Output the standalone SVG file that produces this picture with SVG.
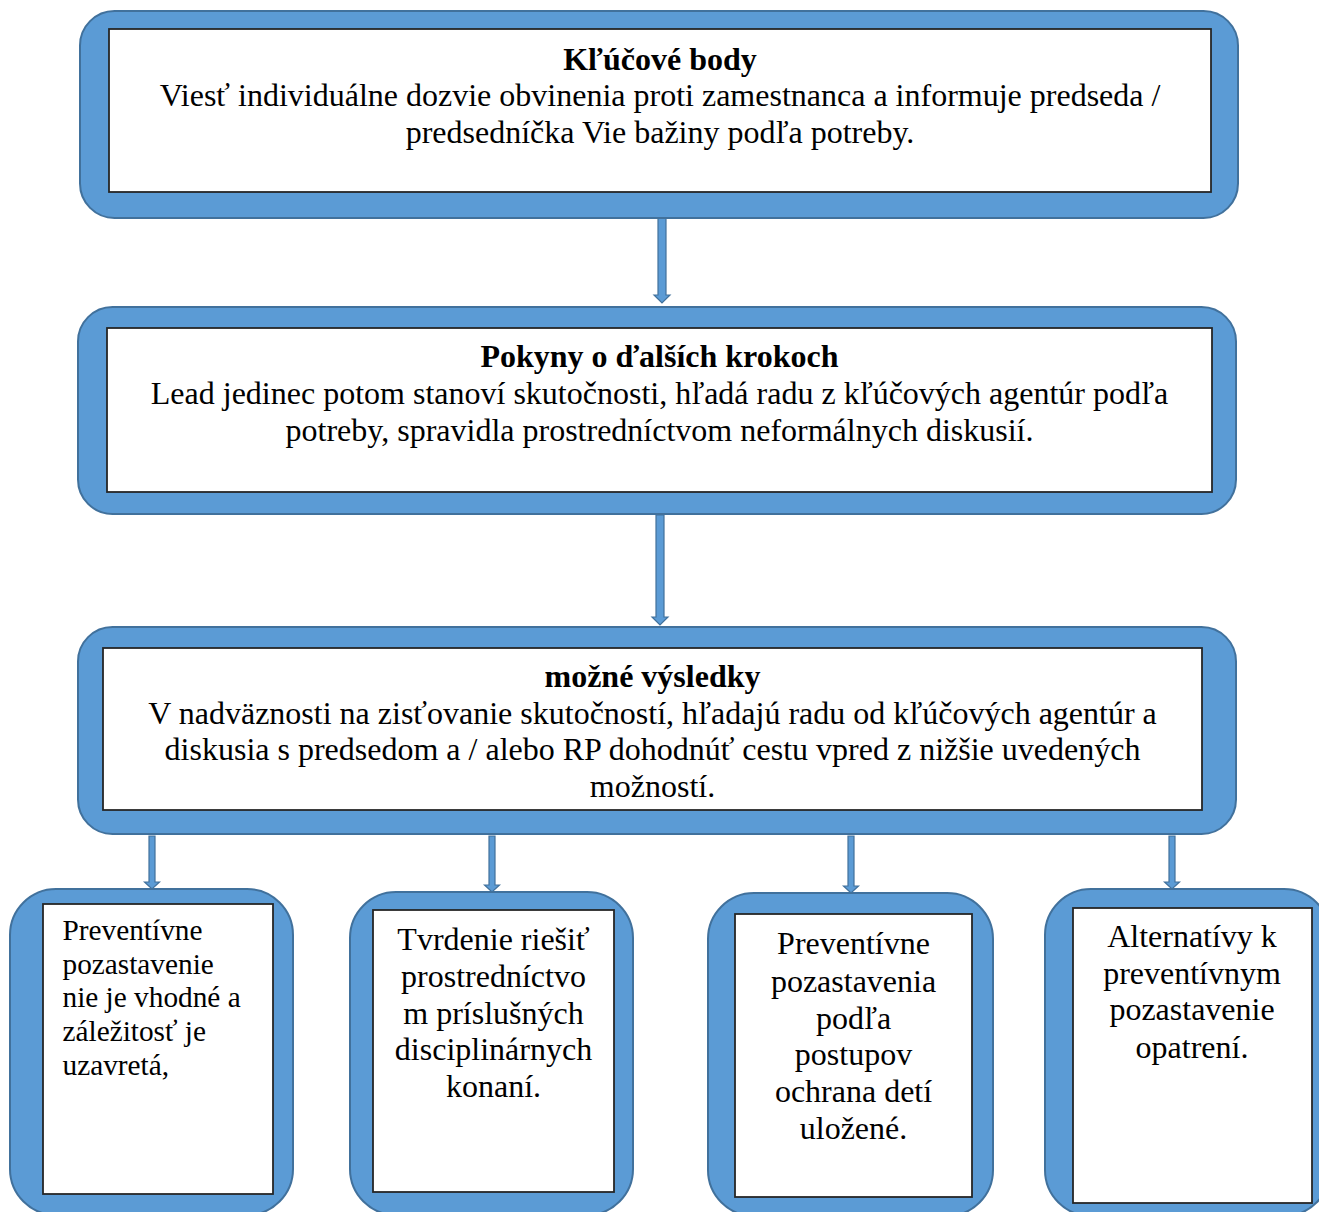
<svg xmlns="http://www.w3.org/2000/svg" width="1319" height="1212" viewBox="0 0 1319 1212">
<style>
.outer{fill:#5B9BD5;stroke:#41719C;stroke-width:2}
.inner{fill:#FFFFFF;stroke:#262626;stroke-width:1.8}
.arrow{fill:#5B9BD5;stroke:#41719C;stroke-width:1.2}
text{font-family:"Liberation Serif","Times New Roman",serif;font-size:32px;fill:#000}
.c{text-anchor:middle}
.b{font-weight:bold}
.s{font-size:29.3px}
</style>
<rect width="1319" height="1212" fill="#FFFFFF"/>
<g id="connectors">
<polygon class="arrow" points="658,217 666,217 666,295 670,295 662,303 654,295 658,295"/>
<polygon class="arrow" points="656,515 664,515 664,617 668,617 660,625 652,617 656,617"/>
<polygon class="arrow" points="149,836 155,836 155,882 159.5,882 152,889 144.5,882 149,882"/>
<polygon class="arrow" points="489,836 495,836 495,885 499.5,885 492,892 484.5,885 489,885"/>
<polygon class="arrow" points="848,836 854,836 854,886 858.5,886 851,893 843.5,886 848,886"/>
<polygon class="arrow" points="1169,836 1175,836 1175,882 1179.5,882 1172,889 1164.5,882 1169,882"/>
</g>
<g id="node-klucove-body">
<rect class="outer" x="80" y="11" width="1158" height="207" rx="34.5" ry="34.5"/>
<rect class="inner" x="109" y="29" width="1102" height="163"/>
<text class="c b" x="660" y="69.5">Kľúčové body</text>
<text class="c" x="660" y="106">Viesť individuálne dozvie obvinenia proti zamestnanca a informuje predseda /</text>
<text class="c" x="660" y="142.5">predsedníčka Vie bažiny podľa potreby.</text>
</g>
<g id="node-pokyny">
<rect class="outer" x="78" y="307" width="1158" height="207" rx="34.5" ry="34.5"/>
<rect class="inner" x="107" y="328" width="1105" height="164"/>
<text class="c b" x="659.5" y="367">Pokyny o ďalších krokoch</text>
<text class="c" x="659.5" y="404">Lead jedinec potom stanoví skutočnosti, hľadá radu z kľúčových agentúr podľa</text>
<text class="c" x="659.5" y="441">potreby, spravidla prostredníctvom neformálnych diskusií.</text>
</g>
<g id="node-mozne-vysledky">
<rect class="outer" x="78" y="627" width="1158" height="207" rx="34.5" ry="34.5"/>
<rect class="inner" x="103" y="648" width="1099" height="162"/>
<text class="c b" x="652.5" y="687">možné výsledky</text>
<text class="c" x="652.5" y="723.5">V nadväznosti na zisťovanie skutočností, hľadajú radu od kľúčových agentúr a</text>
<text class="c" x="652.5" y="760">diskusia s predsedom a / alebo RP dohodnúť cestu vpred z nižšie uvedených</text>
<text class="c" x="652.5" y="797">možností.</text>
</g>
<g id="node-outcome-1">
<rect class="outer" x="10" y="889" width="283" height="326" rx="46" ry="46"/>
<rect class="inner" x="43" y="904" width="230" height="290"/>
<text class="s" x="62.5" y="940">Preventívne</text>
<text class="s" x="62.5" y="973.5">pozastavenie</text>
<text class="s" x="62.5" y="1007">nie je vhodné a</text>
<text class="s" x="62.5" y="1041">záležitosť je</text>
<text class="s" x="62.5" y="1075">uzavretá,</text>
</g>
<g id="node-outcome-2">
<rect class="outer" x="350" y="892" width="283" height="323" rx="46" ry="46"/>
<rect class="inner" x="373" y="910" width="241" height="282"/>
<text class="c" x="493.5" y="949.5">Tvrdenie riešiť</text>
<text class="c" x="493.5" y="986.5">prostredníctvo</text>
<text class="c" x="493.5" y="1023.5">m príslušných</text>
<text class="c" x="493.5" y="1060">disciplinárnych</text>
<text class="c" x="493.5" y="1097">konaní.</text>
</g>
<g id="node-outcome-3">
<rect class="outer" x="708" y="893" width="285" height="323" rx="46" ry="46"/>
<rect class="inner" x="735" y="914" width="237" height="283"/>
<text class="c" x="853.5" y="954">Preventívne</text>
<text class="c" x="853.5" y="991.5">pozastavenia</text>
<text class="c" x="853.5" y="1028.5">podľa</text>
<text class="c" x="853.5" y="1065">postupov</text>
<text class="c" x="853.5" y="1102">ochrana detí</text>
<text class="c" x="853.5" y="1138.5">uložené.</text>
</g>
<g id="node-outcome-4">
<rect class="outer" x="1045" y="889" width="285" height="327" rx="46" ry="46"/>
<rect class="inner" x="1073" y="908" width="239" height="295"/>
<text class="c" x="1192" y="947">Alternatívy k</text>
<text class="c" x="1192" y="983.5">preventívnym</text>
<text class="c" x="1192" y="1020">pozastavenie</text>
<text class="c" x="1192" y="1058">opatrení.</text>
</g>
</svg>
